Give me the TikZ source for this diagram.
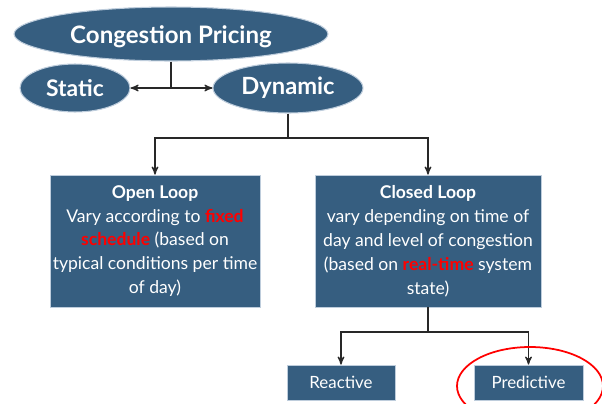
\documentclass[tikz,border=0pt]{standalone}
\usepackage{fontspec}
\setmainfont{Lato}
\usetikzlibrary{arrows,shapes.geometric}
\definecolor{slate}{RGB}{54,94,128}
\definecolor{slateedge}{RGB}{190,205,220}
\definecolor{wire}{RGB}{40,40,40}
\newcommand{\hot}[1]{{\color{red}\bfseries #1}}

\begin{document}
\begin{tikzpicture}[x=0.02cm,y=-0.02cm,>=stealth',
    oval/.style={ellipse,fill=slate,draw=slateedge,line width=0.6pt,
      text=white,font=\bfseries,inner sep=0pt},
    panel/.style={rectangle,fill=slate,draw=slateedge,line width=0.4pt,
      text=white,align=center,inner sep=0pt},
    wired/.style={draw=wire,line width=0.7pt}]
        \useasboundingbox (0,0) rectangle (602,403);

        \node[oval,minimum width=6.28cm,minimum height=1.08cm,text height=14pt,text depth=2.7pt,font=\bfseries\fontsize{13.7}{15}\selectfont] (price) at (171,34) {Congestion Pricing};
        \node[oval,minimum width=2.2cm,minimum height=0.96cm,font=\bfseries\fontsize{13}{15}\selectfont] (static) at (75,88) {Static};
        \node[oval,minimum width=3.0cm,minimum height=1.0cm,font=\bfseries\fontsize{13.5}{15}\selectfont] (dynamic) at (288,88) {Dynamic};

        \node[panel,minimum width=4.2cm,minimum height=2.64cm,font=\fontsize{10}{13.6}\selectfont] (open) at (155,241)
          {\textbf{Open Loop}\\Vary according to \hot{fixed}\\\hot{schedule} (based on\\typical conditions per time\\of day)};
        \node[panel,minimum width=4.52cm,minimum height=2.64cm,font=\fontsize{10}{13.6}\selectfont] (closed) at (428,241)
          {\textbf{Closed Loop}\\vary depending on time of\\day and level of congestion\\(based on \hot{real-time} system\\state)};

        \node[panel,minimum width=2.16cm,minimum height=0.7cm,font=\fontsize{9.6}{11}\selectfont] (reactive) at (341,382.5) {Reactive};
        \node[panel,minimum width=2.18cm,minimum height=0.7cm,font=\fontsize{9.6}{11}\selectfont] (predictive) at (528.5,382.5) {Predictive};

        \coordinate (fork) at (171,88);
        \coordinate (split) at (288,138);
        \coordinate (subsplit) at (428,332);

        \draw[wired] (price) to (fork);
        \draw[wired,<->] (static) to (dynamic);
        \draw[wired] (dynamic) to (split);
        \draw[wired,->] (split) -| (open);
        \draw[wired,->] (split) -| (closed);
        \draw[wired] (closed) to (subsplit);
        \draw[wired,->] (subsplit) -| (reactive);
        \draw[wired,->] (subsplit) -| (predictive);

        \draw[red,line width=1pt] (530,386) ellipse [x radius=73,y radius=39];
      \end{tikzpicture}
\end{document}
